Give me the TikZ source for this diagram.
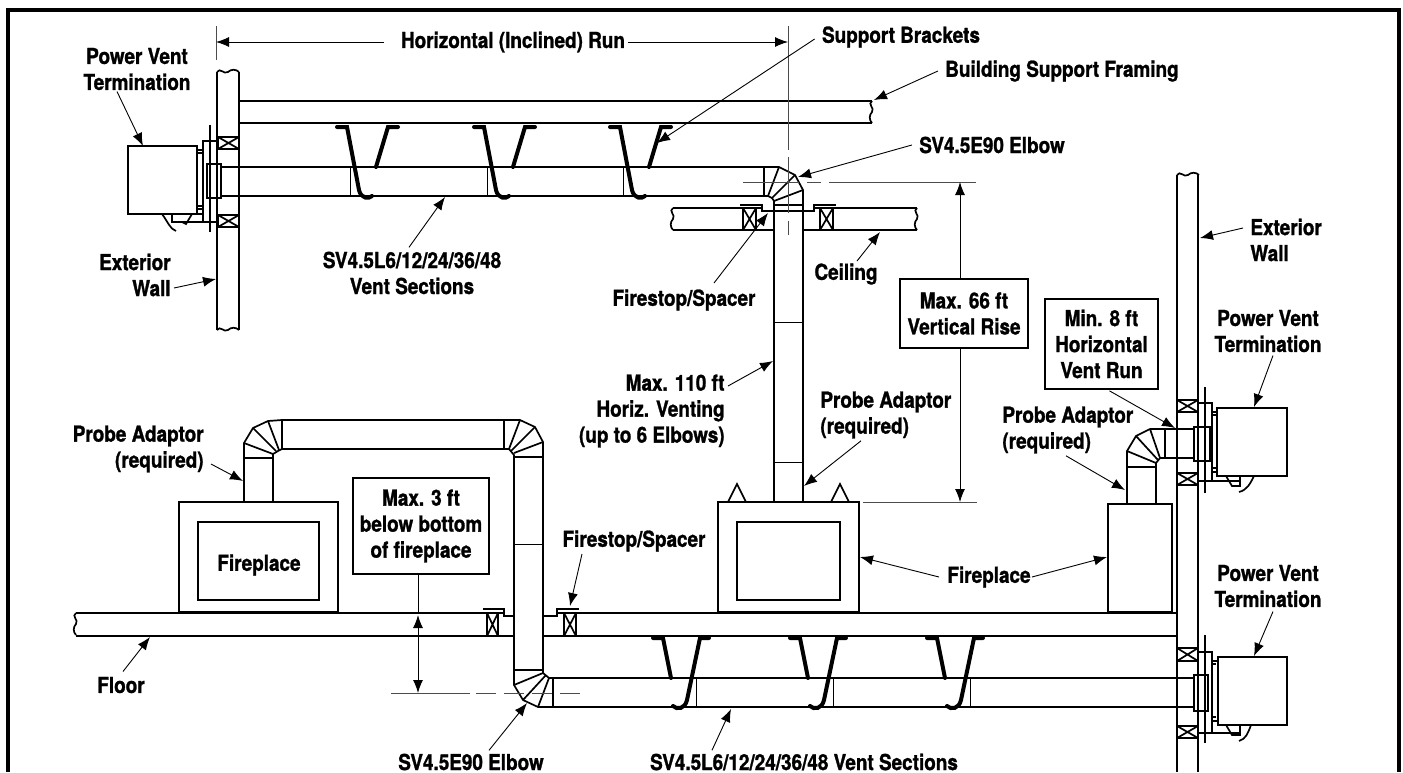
\documentclass[tikz,border=0pt]{standalone}
\usepackage{fontspec}
\setmainfont{TeX Gyre Heros}[FakeStretch=0.86,BoldFeatures={FakeBold=1.2}]
\usetikzlibrary{arrows.meta}
\newcommand{\xblock}[4]{\draw[pipe] (#1,#2) rectangle (#3,#4) (#1,#2) -- (#3,#4) (#1,#4) -- (#3,#2);}
\tikzset{
  lbl/.style={font=\bfseries\fontsize{11}{13}\selectfont,inner sep=0pt,align=center},
  lblbox/.style={lbl,draw=black,line width=0.85pt,fill=white},
  leader/.style={line width=0.45pt,-{Latex[length=6.5pt,width=5pt]}},
  dimline/.style={line width=0.5pt,black!70},
  dimtip/.style={line width=0.5pt,{Latex[length=6.5pt,width=5pt]}-{Latex[length=6.5pt,width=5pt]}},
  centerline/.style={line width=0.5pt,black!70,dash pattern=on 28pt off 4pt on 7pt off 4pt},
  pipe/.style={line width=0.85pt},
  heavy/.style={line width=1.4pt},
  thin section/.style={line width=0.45pt},
  bracket/.style={line width=2pt,line cap=round},
  brkh/.pic={\draw[pipe] (0,0) .. controls (3,-5) and (7,3) .. (11,0) .. controls (14,-3) and (19,-3) .. (22,0);},
  brkv/.pic={\draw[pipe] (0,0) .. controls (-5,3) and (3,7) .. (0,11) .. controls (-3,14) and (-3,19) .. (0,22);},
}
\begin{document}
\begin{tikzpicture}[x=0.5pt,y=-0.5pt]
\useasboundingbox (0,0) rectangle (1403,772);
%%% outer frame, open at the bottom
\draw[line width=1.6pt] (8,772) -- (8,10) -- (1399,10) -- (1399,772);

%%% upper run: wall, framing, ceiling
\draw[pipe] (217,72) -- (217,330) (239,72) -- (239,330);
\pic at (217,72) {brkh};
\pic at (217,330) {brkh};
\draw[pipe] (239,101) -- (872,101) (239,123) -- (872,123);
\pic at (872,101) {brkv};
\draw[pipe] (673,208) -- (762,208) (814,208) -- (917,208);
\draw[pipe] (673,230) -- (774,230) (803,230) -- (917,230);
\pic at (673,208) {brkv};
\pic at (917,208) {brkv};
\xblock{218}{137}{239}{149}
\xblock{218}{215}{239}{227}
\xblock{743}{208}{756}{230}
\xblock{820}{208}{833}{230}
\draw[heavy] (740,205) -- (762,205) -- (762,211) -- (814,211) -- (814,205) -- (836,205);

%%% upper termination
\draw[pipe] (128,146) rectangle (197,214);
\draw[pipe] (197,150) -- (203,150) -- (203,209) -- (197,209);
\draw[heavy] (198,153) -- (202,153) (198,206) -- (202,206);
\draw[heavy] (203,222) -- (203,141) -- (217,141);
\draw[pipe] (203,222) -- (217,222);
\draw[heavy] (210,125) -- (210,232);
\draw[pipe] (207,164) rectangle (221,198);
\draw[pipe] (155,214) -- (203,214);
\draw[pipe] (162,214) .. controls (168,222) and (170,229) .. (176,231);
\draw[pipe] (172,214) -- (172,222) -- (203,222) (182,222) -- (186,224) -- (192,214);

%%% upper pipe and elbow
\draw[pipe] (221,167) -- (764,167) (221,196) -- (764,196);
\draw[heavy] (764,167) -- (764,196);
\draw[pipe] (764,167) -- (779,167) -- (795,175) -- (803,190) -- (803,205);
\draw[pipe] (764,196) -- (768,196) -- (772,198) -- (774,201) -- (774,205);
\draw[pipe] (768,196) -- (779,167) (772,198) -- (795,175) (774,201) -- (803,190);
\draw[heavy] (774,205) -- (803,205);
\draw[pipe] (774,205) -- (774,502) (803,205) -- (803,502);
\draw[thin section] (774,322) -- (803,322) (774,462) -- (803,462);
\foreach \xb in {0,137,273} {
  \draw[thin section] (350+\xb,167) -- (350+\xb,196);
  \draw[bracket] (337+\xb,127) -- (347+\xb,127) -- (359+\xb,190) .. controls (361+\xb,199) and (369+\xb,199) .. (372+\xb,196);
  \draw[bracket] (398+\xb,127) -- (388+\xb,127) -- (376+\xb,167);
}

%%% center lines and dimensions of the upper run
\draw[dimline] (216,26) -- (216,60);
\draw[dimline] (788,26) -- (788,150);
\draw[centerline] (788,157) -- (788,238);
\draw[centerline] (743,182) -- (860,182);
\draw[dimline] (860,182) -- (976,182);
\draw[dimline] (863,502) -- (977,502);
\coordinate (dimTop) at (960,182);
\coordinate (dimBot) at (960,502);

%%% right wall
\draw[pipe] (1177,175) -- (1177,772) (1198,175) -- (1198,772);
\pic at (1177,175) {brkh};
\xblock{1177}{400}{1198}{412}
\xblock{1177}{473}{1198}{485}
\xblock{1177}{648}{1198}{661}
\xblock{1177}{726}{1198}{738}

%%% right upper termination
\draw[pipe] (1217,408) rectangle (1287,476);
\draw[heavy] (1217,408) -- (1270,408) (1217,476) -- (1270,476);
\draw[pipe] (1217,412) -- (1212,412) -- (1212,472) -- (1217,472);
\draw[heavy] (1213,415) -- (1216,415) (1213,468) -- (1216,468);
\draw[heavy] (1198,403) -- (1212,403) -- (1212,481) -- (1198,481);
\draw[heavy] (1205,387) -- (1205,493);
\draw[pipe] (1194,427) rectangle (1210,461);
\draw[pipe] (1212,481) -- (1240,481) (1226,476) -- (1232,486) -- (1240,486) -- (1240,476);
\draw[pipe] (1254,476) .. controls (1250,484) and (1247,490) .. (1239,492);

%%% right elbow and fireplace
\draw[pipe] (1150,429) -- (1194,429) (1160,458) -- (1194,458);
\draw[heavy] (1165,429) -- (1165,458);
\draw[pipe] (1150,429) -- (1136,436) -- (1127,451) -- (1127,504);
\draw[pipe] (1165,458) -- (1160,458) -- (1156,463) -- (1156,504);
\draw[pipe] (1160,458) -- (1150,429) (1158,460) -- (1136,436) (1156,463) -- (1127,451);
\draw[heavy] (1127,467) -- (1156,467);
\draw[pipe] (1108,504) rectangle (1172,612);

%%% lower termination
\draw[pipe] (1218,657) rectangle (1287,725);
\draw[heavy] (1218,657) -- (1270,657) (1218,725) -- (1270,725);
\draw[pipe] (1218,661) -- (1212,661) -- (1212,721) -- (1218,721);
\draw[heavy] (1213,664) -- (1216,664) (1213,717) -- (1216,717);
\draw[heavy] (1198,652) -- (1212,652) -- (1212,733) -- (1198,733);
\draw[heavy] (1205,635) -- (1205,743);
\draw[pipe] (1194,675) rectangle (1208,711);
\draw[pipe] (1212,733) -- (1240,733) (1226,725) -- (1232,735) -- (1240,735) -- (1240,725);
\draw[pipe] (1251,725) .. controls (1248,733) and (1246,739) .. (1239,741);

%%% floor
\draw[pipe] (76,613) -- (504,613) (557,613) -- (1177,613);
\draw[pipe] (76,636) -- (514,636) (543,636) -- (1177,636);
\pic at (76,613) {brkv};
\xblock{487}{613}{498}{636}
\xblock{564}{613}{576}{636}
\draw[heavy] (483,609) -- (504,609) -- (504,616) -- (514,616);
\draw[heavy] (543,616) -- (557,616) -- (557,609) -- (579,609);

%%% left fireplace and loop of vent
\draw[pipe] (179,502) rectangle (338,612);
\draw[pipe] (198,522) rectangle (319,600);
\draw[pipe] (244,502) -- (244,443) -- (253,428) -- (268,421) -- (282,420);
\draw[pipe] (273,502) -- (273,454) -- (278,451) -- (282,449);
\draw[pipe] (244,443) -- (273,454) (253,428) -- (276,451) (268,421) -- (279,450);
\draw[heavy] (244,458) -- (273,458) (282,420) -- (282,449);
\draw[pipe] (282,420) -- (504,420) (282,449) -- (504,449);
\draw[heavy] (504,420) -- (504,449);
\draw[pipe] (504,420) -- (520,420) -- (535,427) -- (543,442) -- (543,670);
\draw[pipe] (504,449) -- (509,449) -- (514,455) -- (514,670);
\draw[pipe] (509,449) -- (520,420) (511,451) -- (535,427) (514,453) -- (543,442);
\draw[heavy] (514,457) -- (543,457) (514,670) -- (543,670);
\draw[thin section] (514,544) -- (543,544);

%%% lower elbow and lower pipe
\draw[pipe] (514,670) -- (514,685) -- (523,700) -- (538,707) -- (553,707);
\draw[pipe] (543,670) -- (543,673) -- (549,678) -- (553,678);
\draw[pipe] (514,685) -- (543,673) (523,700) -- (546,675) (538,707) -- (549,678);
\draw[heavy] (553,678) -- (553,707);
\draw[pipe] (553,678) -- (1194,678) (553,707) -- (1194,707);
\foreach \xb in {0,137,274} {
  \draw[thin section] (696+\xb,678) -- (696+\xb,707);
  \draw[bracket] (653+\xb,638) -- (663+\xb,638) -- (671+\xb,678);
  \draw[bracket] (709+\xb,638) -- (700+\xb,638) -- (687+\xb,700) .. controls (685+\xb,709) and (677+\xb,710) .. (673+\xb,706);
}
\draw[dimline] (391,693) -- (470,693);
\draw[centerline,dash pattern=on 10pt off 4pt] (476,693) -- (584,693);

%%% center fireplace
\draw[pipe] (718,502) rectangle (859,612);
\draw[pipe] (737,522) rectangle (840,600);
\draw[heavy] (774,502) -- (803,502);
\draw[pipe] (728,502) -- (737,484) -- (746,502);
\draw[pipe] (831,502) -- (840,484) -- (849,502);

%%% labels
\node[lbl] (lblRun) at (513,42) {Horizontal (Inclined) Run};
\node[lbl] (lblBrackets) at (901,37) {Support Brackets};
\node[lbl] (lblFraming) at (1062,71) {Building Support Framing};
\node[lbl] (lblElbowT) at (992,145) {SV4.5E90 Elbow};
\node[lbl] (lblTermTL) at (137,69) {Power Vent\\Termination};
\node[lbl,anchor=east,align=right] (lblWallL) at (171,275) {Exterior\\Wall};
\node[lbl] (lblSectT) at (412,273) {SV4.5L6/12/24/36/48\\Vent Sections};
\node[lbl] (lblStopT) at (684,300) {Firestop/Spacer};
\node[lbl] (lblCeiling) at (846,274) {Ceiling};
\node[lbl,anchor=west,align=left] (lblWallR) at (1250,240) {Exterior\\Wall};
\node[lbl] (lblTermTR) at (1268,331) {Power Vent\\Termination};
\node[lblbox,minimum width=128*0.5pt,minimum height=69*0.5pt] (boxRise) at (964,313.5) {Max. 66 ft\\Vertical Rise};
\node[lblbox,minimum width=113*0.5pt,minimum height=90*0.5pt] (boxRun) at (1101.5,344) {Min. 8 ft\\Horizontal\\Vent Run};
\node[lbl,anchor=east,align=right] (lblHoriz) at (725,411) {Max. 110 ft\\Horiz. Venting\\(up to 6 Elbows)};
\node[lbl,anchor=west,align=left] (lblProbeC) at (820,415) {Probe Adaptor\\(required)};
\node[lbl,anchor=west,align=left] (lblProbeR) at (1002,430) {Probe Adaptor\\(required)};
\node[lbl,anchor=east,align=right] (lblProbeL) at (204,449) {Probe Adaptor\\(required)};
\node[lblbox,minimum width=136*0.5pt,minimum height=96*0.5pt] (boxBelow) at (421,526) {Max. 3 ft\\below bottom\\of fireplace};
\node[lbl] (lblFireL) at (259,565) {Fireplace};
\node[lbl] (lblFireC) at (989,577) {Fireplace};
\node[lbl] (lblStopB) at (634,541) {Firestop/Spacer};
\node[lbl] (lblTermBR) at (1268,586) {Power Vent\\Termination};
\node[lbl] (lblFloor) at (121,685) {Floor};
\node[lbl] (lblElbowB) at (471,762) {SV4.5E90 Elbow};
\node[lbl] (lblSectB) at (804,762) {SV4.5L6/12/24/36/48 Vent Sections};

%%% dimension arrows, from the boxes and labels
\coordinate (tickRunL) at (216,42);
\coordinate (tickRunR) at (788,42);
\draw[leader] ([xshift=-8.5pt]lblRun.west) -- (tickRunL);
\draw[leader] ([xshift=1.5pt]lblRun.east) -- (tickRunR);
\draw[{Latex[length=6.5pt,width=5pt]}-,line width=0.5pt] (dimTop) -- (boxRise.north -| dimTop);
\draw[-{Latex[length=6.5pt,width=5pt]},line width=0.5pt] (boxRise.south -| dimBot) -- (dimBot);
\coordinate (floorTop) at (418,613);
\coordinate (floorTip) at (418,615);
\coordinate (floorDash) at (418,693);
\draw[line width=0.5pt] (boxBelow.south -| floorTop) -- (floorTop);
\draw[dimtip] (floorTip) -- (floorDash);

%%% leaders
\coordinate (tipTermTL) at (143,146);
\draw[leader] ([shift={(-20,1)}]lblTermTL.south) -- (tipTermTL);
\coordinate (tipBracketsT) at (657,143);
\draw[leader] ([shift={(-7,2)}]lblBrackets.west) -- (tipBracketsT);
\coordinate (tipFraming) at (874,100);
\draw[leader] ([xshift=-3.5pt]lblFraming.west) -- (tipFraming);
\coordinate (tipElbowT) at (798,177);
\draw[leader] ([xshift=-3.5pt]lblElbowT.west) -- (tipElbowT);
\coordinate (tipWallL) at (216,279);
\draw[leader] ([shift={(3,13)}]lblWallL.east) -- (tipWallL);
\coordinate (tipSectT) at (445,197);
\draw[leader] ([shift={(-3,-4)}]lblSectT.north) -- (tipSectT);
\coordinate (tipStopT) at (768,213);
\draw[leader] ([shift={(30,-6)}]lblStopT.north) -- (tipStopT);
\coordinate (tipCeiling) at (880,232);
\draw[leader] ([shift={(11,-2)}]lblCeiling.north) -- (tipCeiling);
\coordinate (tipWallR) at (1200,238);
\draw[leader] ([shift={(-7,-12)}]lblWallR.west) -- (tipWallR);
\coordinate (tipTermTR) at (1254,407);
\draw[leader] ([shift={(5,3)}]lblTermTR.south) -- (tipTermTR);
\coordinate (tipRunPipe) at (1175,428);
\draw[leader] ([shift={(8,1)}]boxRun.south) -- (tipRunPipe);
\coordinate (tipHoriz) at (773,361);
\draw[leader] ([shift={(3,-25)}]lblHoriz.east) -- (tipHoriz);
\coordinate (tipProbeC) at (804,486);
\draw[leader] ([shift={(41,2)}]lblProbeC.south west) -- (tipProbeC);
\coordinate (tipProbeR) at (1125,490);
\draw[leader] ([shift={(64,2)}]lblProbeR.south west) -- (tipProbeR);
\coordinate (tipProbeL) at (243,481);
\draw[leader] ([shift={(7,15)}]lblProbeL.east) -- (tipProbeL);
\coordinate (tipFireC) at (860,557);
\coordinate (tipFireR) at (1107,557);
\draw[leader] ([xshift=-4pt]lblFireC.west) -- (tipFireC);
\draw[leader] ([xshift=0.5pt]lblFireC.east) -- (tipFireR);
\coordinate (tipStopB) at (570,606);
\draw[leader] ([shift={(-52,2)}]lblStopB.south) -- (tipStopB);
\coordinate (tipTermBR) at (1254,656);
\draw[leader] ([shift={(5,4)}]lblTermBR.south) -- (tipTermBR);
\coordinate (tipFloor) at (150,637);
\draw[leader] ([shift={(2,-5)}]lblFloor.north) -- (tipFloor);
\coordinate (tipElbowB) at (527,703);
\draw[leader] ([shift={(18,-3)}]lblElbowB.north) -- (tipElbowB);
\coordinate (tipSectB) at (731,709);
\draw[leader] ([shift={(-92,-3)}]lblSectB.north) -- (tipSectB);
\end{tikzpicture}
\end{document}
